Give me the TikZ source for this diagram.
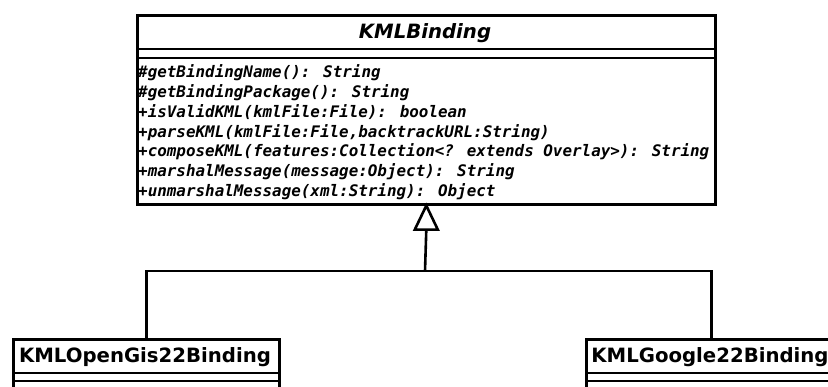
\documentclass[tikz,border=0pt]{standalone}
\usepackage{fontspec}
\newfontfamily\dvsans{DejaVu Sans}[BoldFont={DejaVu Sans Bold},BoldItalicFont={DejaVu Sans Bold Oblique}]
\newfontfamily\dvmono{DejaVu Sans Mono}[BoldFont={DejaVu Sans Mono Bold},BoldItalicFont={DejaVu Sans Mono Bold Oblique}]
\tikzset{
  umlbox/.style={draw=black, line width=2.6pt, fill=white, inner sep=0pt, anchor=north west},
  sepline/.style={draw=black, line width=2.6pt},
  titletext/.style={inner sep=0pt, anchor=base, font=\dvsans\fontsize{19.7}{23}\selectfont\bfseries},
  abstracttitle/.style={titletext, font=\dvsans\fontsize{19.7}{23}\selectfont\bfseries\itshape},
  methodtext/.style={inner sep=0pt, anchor=base west, font=\dvmono\fontsize{15.9}{19.7}\selectfont\bfseries\itshape},
  conn/.style={draw=black, line width=2.6pt, line join=miter},
  triangletip/.style={conn, fill=white}
}
\begin{document}
\begin{tikzpicture}[x=1pt,y=1pt]
\useasboundingbox (0,0) rectangle (828,-387);
\clip (0,0) rectangle (828,-387);
\fill[white] (0,0) rectangle (828,-387);
% top class
\node[umlbox, minimum width=578pt, minimum height=189pt] (kml) at (136,-14) {};
\draw[sepline] (136,-49) -- (714,-49);
\draw[sepline] (136,-58) -- (714,-58);
\node[abstracttitle] (kmlt) at (425,-38.7) {KMLBinding};
\node[methodtext] (m1) at (138,-78) {\#getBindingName(): String};
\node[methodtext] (m2) at (138,-97.7) {\#getBindingPackage(): String};
\node[methodtext] (m3) at (138,-117.4) {+isValidKML(kmlFile:File): boolean};
\node[methodtext] (m4) at (138,-137.1) {+parseKML(kmlFile:File,backtrackURL:String)};
\node[methodtext] (m5) at (138,-156.8) {+composeKML(features:Collection<? extends Overlay>): String};
\node[methodtext] (m6) at (138,-176.5) {+marshalMessage(message:Object): String};
\node[methodtext] (m7) at (138,-196.2) {+unmarshalMessage(xml:String): Object};
% left subclass
\node[umlbox, minimum width=266pt, minimum height=80pt] (ogc) at (12,-338) {};
\draw[sepline] (12,-373) -- (278,-373);
\draw[sepline] (12,-381) -- (278,-381);
\node[titletext] (ogct) at (145,-362.7) {KMLOpenGis22Binding};
% right subclass
\node[umlbox, minimum width=250pt, minimum height=80pt] (goo) at (585,-338) {};
\draw[sepline] (585,-373) -- (840,-373);
\draw[sepline] (585,-381) -- (840,-381);
\node[titletext] (goot) at (710,-362.7) {KMLGoogle22Binding};
% connectors
\coordinate (junc) at (425,-271);
\coordinate (tribase) at ([yshift=-24pt]kml.south);
\draw[conn] (ogc.north) |- (junc) -| (goo.north);
\draw[conn] (junc) -- (tribase);
\draw[triangletip] (kml.south) -- ([xshift=-11.5pt]tribase) -- ([xshift=11.5pt]tribase) -- cycle;
\end{tikzpicture}
\end{document}
